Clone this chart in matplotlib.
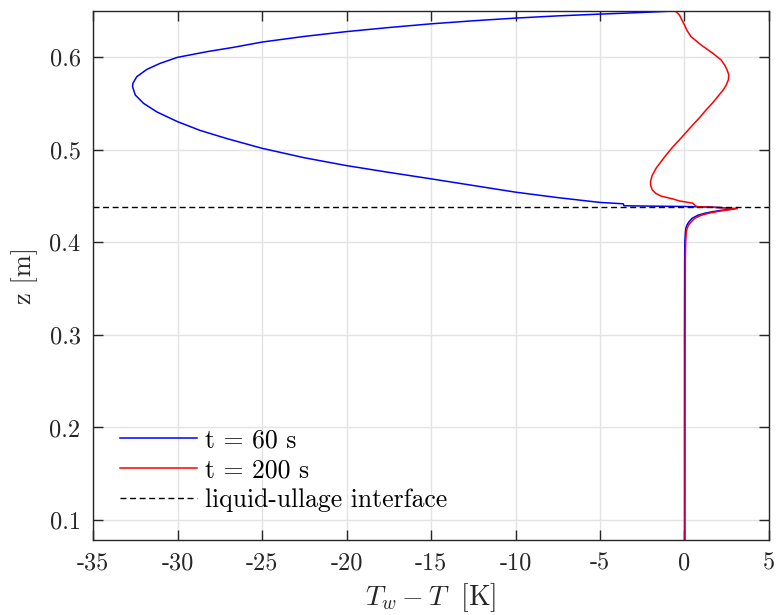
import warnings
import matplotlib
matplotlib.use("Agg")
import matplotlib.pyplot as plt
from matplotlib.ticker import FuncFormatter

warnings.filterwarnings("ignore")

# Wall-to-fluid temperature difference profiles along the tank height (t = 60 s)
dT_60 = [0.00, 0.00, 0.01, 0.02, 0.05, 0.08, 0.15, 0.26, 0.45, 0.80, 1.20, 1.60,
         2.20, 2.94, 2.50, 1.50, 0.00, -2.00, -3.58, -3.62, -5.00, -7.50, -10.0,
         -12.5, -15.0, -17.5, -20.0, -22.5, -25.0, -27.08, -28.66,
         -30.0, -31.22, -32.01, -32.5, -32.66, -32.64, -32.41, -31.81, -31.03,
         -30.0, -28.26, -26.69, -25.0, -22.5, -20.0, -17.5, -15.0, -12.5,
         -10.0, -7.5, -5.0, -2.5, -0.7]
z_60 = [0.070, 0.300, 0.380, 0.400, 0.410, 0.415, 0.419, 0.4222, 0.4260, 0.4294,
        0.4315, 0.4330, 0.4347, 0.4362, 0.4372, 0.4382, 0.4388, 0.4392, 0.4396,
        0.4417, 0.4432, 0.4484, 0.4543, 0.4615, 0.4687, 0.4757, 0.4830, 0.4915,
        0.5017, 0.5122, 0.5210, 0.5305, 0.5410, 0.5503, 0.5593, 0.5683,
        0.5719, 0.5791, 0.5870, 0.5935, 0.6000, 0.6061, 0.6108, 0.6165, 0.6226,
        0.6278, 0.6322, 0.6362, 0.6395, 0.6424, 0.6448, 0.6467, 0.6485, 0.6500]

# Same quantity at t = 200 s
dT_200 = [0.03, 0.04, 0.05, 0.07, 0.10, 0.15, 0.25, 0.40, 0.60, 1.00, 1.50, 2.00,
          2.60, 3.12, 2.60, 1.60, 0.75, 0.65, 0.49, -0.30, -0.70, -1.38, -1.70,
          -1.91, -2.00, -2.01, -1.92, -1.68, -1.40, -1.08, -0.70, -0.30, 0.10,
          0.49, 0.90, 1.28, 1.65, 1.97, 2.30, 2.47, 2.60, 2.62, 2.55, 2.40, 2.17,
          1.68, 0.99, 0.39, 0.15, 0.00, -0.30, -0.49, -0.60]
z_200 = [0.070, 0.300, 0.380, 0.400, 0.410, 0.415, 0.419, 0.4222, 0.4260, 0.4294,
         0.4318, 0.4335, 0.4352, 0.4365, 0.4372, 0.4380, 0.4386, 0.4396, 0.4424,
         0.4448, 0.4470, 0.4500, 0.4530, 0.4568, 0.4615, 0.4658, 0.4720, 0.4802,
         0.4870, 0.4946, 0.5030, 0.5108, 0.5190, 0.5270, 0.5350, 0.5432, 0.5505,
         0.5576, 0.5650, 0.5701, 0.5760, 0.5809, 0.5850, 0.5910, 0.5971, 0.6043,
         0.6133, 0.6223, 0.6290, 0.6349, 0.6457, 0.6493, 0.6500]

z_interface = 0.438

labels = ["t = 60 s", "t = 200 s", "liquid-ullage interface"]
x_ticks = [-35, -30, -25, -20, -15, -10, -5, 0, 5]
y_ticks = [0.1, 0.2, 0.3, 0.4, 0.5, 0.6]

plt.rcParams["font.family"] = ["cmr10", "DejaVu Serif"]
plt.rcParams["mathtext.fontset"] = "cm"
plt.rcParams["axes.unicode_minus"] = False

fig = plt.figure(figsize=(7.77, 6.15), dpi=100)
ax = fig.add_axes([0.1197, 0.122, 0.870, 0.860])

ax.plot(dT_60, z_60, color=(0, 0, 1), lw=1.1, label=labels[0])
ax.plot(dT_200, z_200, color=(1, 0, 0), lw=1.1, label=labels[1])
ax.axhline(z_interface, color="black", lw=1.0, linestyle=(0, (4.3, 2.6)),
           label=labels[2])

ax.set_xlim(-35, 5)
ax.set_ylim(0.0784, 0.65)
ax.set_xticks(x_ticks)
ax.set_yticks(y_ticks)
ax.xaxis.set_major_formatter(FuncFormatter(lambda v, p: f"{v:g}"))
ax.yaxis.set_major_formatter(FuncFormatter(lambda v, p: f"{v:.1f}"))

ax.grid(True, color="#e3e3e3", lw=1.0)
ax.set_axisbelow(True)
for s in ax.spines.values():
    s.set_color("#262626")
    s.set_linewidth(1.0)
ax.tick_params(direction="in", length=7, width=1.0, colors="#262626",
               labelcolor="#262626", labelsize=17.5, top=True, right=True,
               pad=9)

ax.set_xlabel(r"$T_w - T\ \ [\mathrm{K}]$", fontsize=20, color="#262626",
              labelpad=4.5)
ax.set_ylabel("z [m]", fontsize=19, color="#262626", labelpad=8)

ax.legend(loc="lower left", bbox_to_anchor=(0.04, 0.052), frameon=False,
          fontsize=18.5, handlelength=3.0, handletextpad=0.32, labelspacing=0.25,
          borderpad=0, borderaxespad=0)

fig.savefig("out.png", dpi=100)
